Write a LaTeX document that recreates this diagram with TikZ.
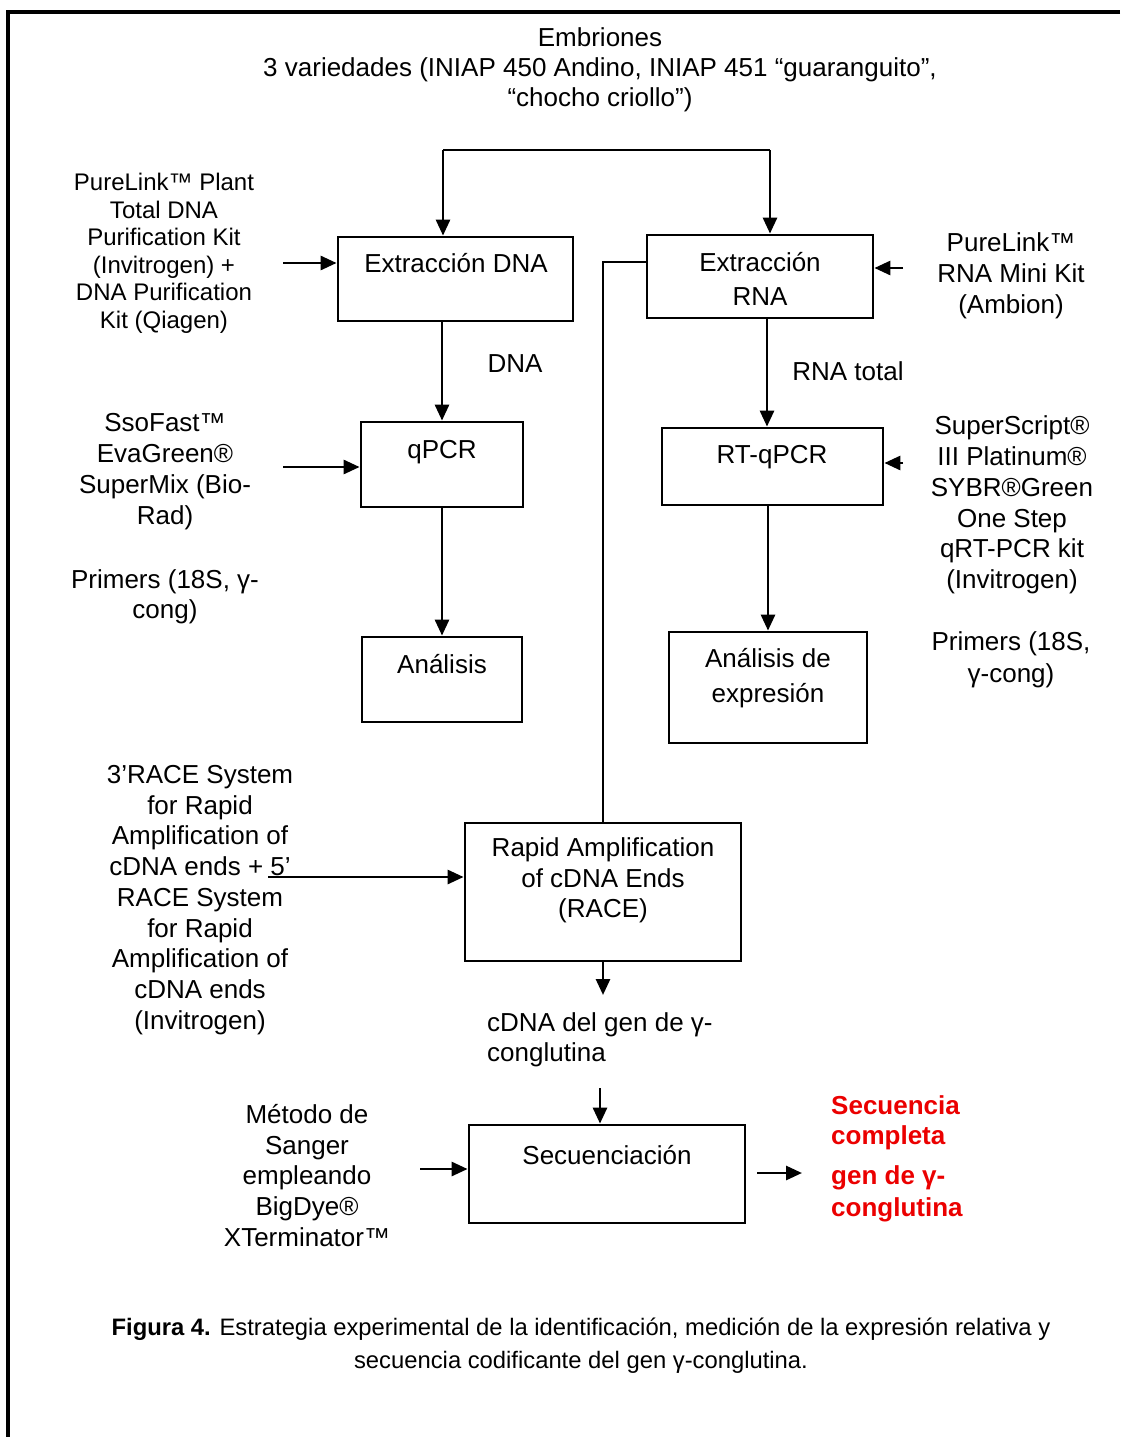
\documentclass[tikz,border=0pt]{standalone}
\usepackage{fontspec}
\setmainfont{Liberation Sans}
\usetikzlibrary{arrows.meta}
\definecolor{redtxt}{RGB}{235,0,0}
\begin{document}
\begin{tikzpicture}[x=1pt,y=-1pt,
  box/.style={draw, line width=2.8pt, inner sep=0pt},
  ln/.style={line width=2.8pt},
  arr/.style={line width=2.8pt, -{Triangle[length=16pt,width=14pt]}},
  txt/.style={font=\fontsize{26}{31}\selectfont, align=center, inner sep=0pt},
  smalltxt/.style={font=\fontsize{24}{27.5}\selectfont, align=center, inner sep=0pt},
  redt/.style={font=\fontsize{26}{30}\selectfont\bfseries, text=redtxt, align=left, inner sep=0pt, anchor=west},
  captxt/.style={font=\fontsize{23.8}{33}\selectfont, align=center, inner sep=0pt}
]
\useasboundingbox (0,0) rectangle (1120,1437);
% frame
\draw[line width=3.2pt] (1120,12) -- (8,12) -- (8,1437);

% boxes
\node[box, minimum width=235pt, minimum height=84pt] (dnaB) at (455.5,279) {};
\node[box, minimum width=226pt, minimum height=83pt] (rnaB) at (760,276.5) {};
\node[box, minimum width=162pt, minimum height=85pt] (qpcrB) at (442,464.5) {};
\node[box, minimum width=221pt, minimum height=77pt] (rtB) at (772.5,466.5) {};
\node[box, minimum width=160pt, minimum height=85pt] (anB) at (442,679.5) {};
\node[box, minimum width=198pt, minimum height=111pt] (aexB) at (768,687.5) {};
\node[box, minimum width=276pt, minimum height=138pt] (raceB) at (603,892) {};
\node[box, minimum width=276pt, minimum height=98pt] (secB) at (607,1174) {};

% box texts
\node[txt] (dnaT) at (456,263) {Extracción DNA};
\node[txt, font=\fontsize{26}{34}\selectfont] (rnaT) at (760,279) {Extracción\\RNA};
\node[txt] (qpcrT) at (442,452) {qPCR};
\node[txt] (rtT) at (772,457) {RT-qPCR};
\node[txt] (anT) at (442,664) {Análisis};
\node[txt, font=\fontsize{26}{35}\selectfont] (aexT) at (768,678.5) {Análisis de\\expresión};
\node[txt, font=\fontsize{26}{30.5}\selectfont] (raceT) at (603,880.5) {Rapid Amplification\\of cDNA Ends\\(RACE)};
\node[txt] (secT) at (607,1155) {Secuenciación};

% title and side texts
\node[txt, font=\fontsize{26}{30}\selectfont] (title) at (600,70) {Embriones\\3 variedades (INIAP 450 Andino, INIAP 451 “guaranguito”,\\“chocho criollo”)};
\node[smalltxt] (kitDNA) at (164,253.5) {PureLink™ Plant\\Total DNA\\Purification Kit\\(Invitrogen) +\\DNA Purification\\Kit (Qiagen)};
\node[txt] (kitRNA) at (1011,276) {PureLink™\\RNA Mini Kit\\(Ambion)};
\node[txt] (kitQ) at (165,471.5) {SsoFast™\\EvaGreen®\\SuperMix (Bio-\\Rad)};
\node[txt, font=\fontsize{26}{30}\selectfont] (primL) at (165,597) {Primers (18S, γ-\\cong)};
\node[txt, font=\fontsize{26}{30.8}\selectfont] (kitRT) at (1012,505) {SuperScript®\\III Platinum®\\SYBR®Green\\One Step\\qRT-PCR kit\\(Invitrogen)};
\node[txt, font=\fontsize{26}{32}\selectfont] (primR) at (1011,660) {Primers (18S,\\γ-cong)};
\node[txt, font=\fontsize{26}{30.75}\selectfont] (kitRACE) at (200,900) {3’RACE System\\for Rapid\\Amplification of\\cDNA ends + 5’\\RACE System\\for Rapid\\Amplification of\\cDNA ends\\(Invitrogen)};
\node[txt, font=\fontsize{26}{30.75}\selectfont] (sanger) at (307,1175.5) {Método de\\Sanger\\empleando\\BigDye®\\XTerminator™};
\node[txt, align=left, anchor=west, font=\fontsize{26}{30}\selectfont] (cdna) at (487,1040) {cDNA del gen de γ-\\conglutina};
\node[txt] (dnaL) at (515,364) {DNA};
\node[txt] (rnaL) at (848,371) {RNA total};
\node[redt] (res1) at (831,1123) {Secuencia\\completa};
\node[redt, font=\fontsize{26}{32}\selectfont\bfseries] (res2) at (831,1194) {gen de γ-\\conglutina};
\node[captxt] (caption) at (581,1346) {\textbf{Figura 4.} Estrategia experimental de la identificación, medición de la expresión relativa y\\secuencia codificante del gen γ-conglutina.};

% connectors
\coordinate (sL) at (443,150);
\coordinate (sR) at (770,150);
\draw[ln] (sL) -- (sR);
\draw[arr] (sL) -- (sL |- dnaB.north);
\draw[arr] (sR) -- (sR |- rnaB.north);
\coordinate (inDNA) at (283,263);
\draw[arr] (inDNA) -- (inDNA -| dnaB.west);
\coordinate (inRNA) at (903,268);
\draw[arr] (inRNA) -- (inRNA -| rnaB.east);
\draw[arr] (qpcrB.north |- dnaB.south) -- (qpcrB.north);
\draw[arr] ([xshift=7pt]rnaB.south) -- ([xshift=7pt]rnaB.south |- rtB.north);
\coordinate (inRT) at (903,463);
\draw[arr] (inRT) -- (inRT -| rtB.east);
\coordinate (inQ) at (283,467);
\draw[arr] (inQ) -- (inQ -| qpcrB.west);
\draw[arr] (qpcrB.south) -- (qpcrB.south |- anB.north);
\draw[arr] (aexB.north |- rtB.south) -- (aexB.north);
\draw[ln] ([yshift=14.5pt]rnaB.west) -| (raceB.north);
\coordinate (inR) at (268,877);
\draw[arr] (inR) -- (inR -| raceB.west);
\coordinate (raceEnd) at (603,995);
\draw[arr] (raceB.south) -- (raceEnd);
\coordinate (cdnaOut) at (600,1088);
\draw[arr] (cdnaOut) -- (cdnaOut |- secB.north);
\coordinate (inS) at (420,1169);
\draw[arr] (inS) -- (inS -| secB.west);
\coordinate (outS) at (757,1173);
\coordinate (outE) at (802,1173);
\draw[arr] (outS) -- (outE);
\end{tikzpicture}
\end{document}
